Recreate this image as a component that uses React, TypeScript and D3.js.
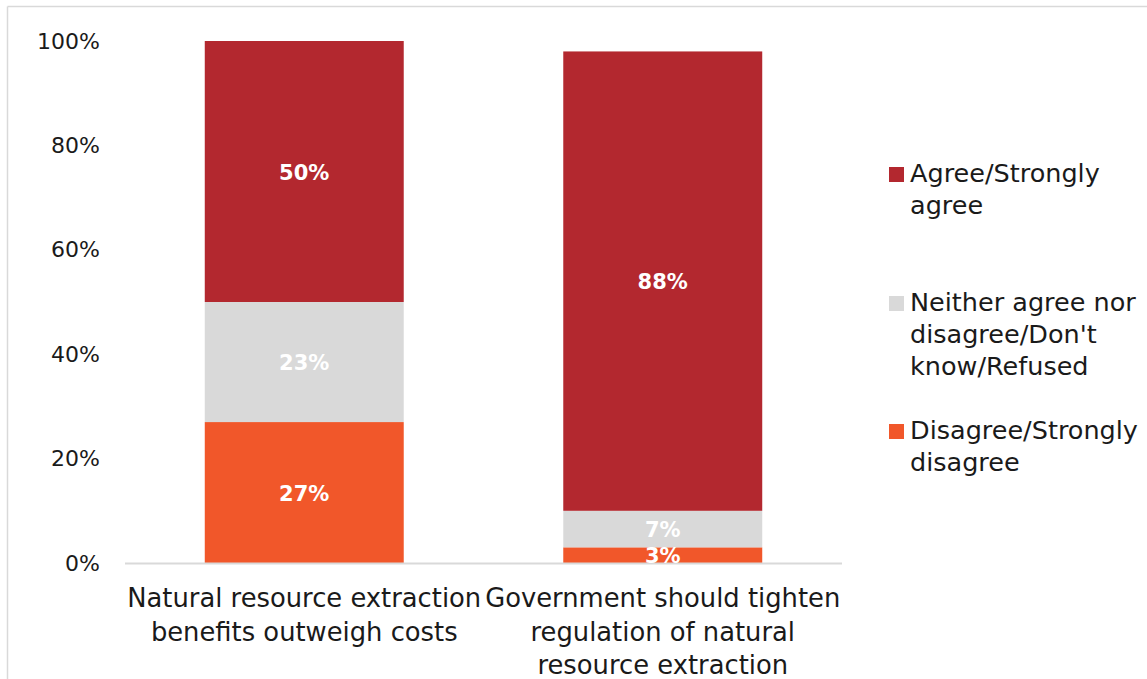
import React from "react";
import * as d3 from "d3";

const categories = [
  ["Natural resource extraction", "benefits outweigh costs"],
  ["Government should tighten", "regulation of natural", "resource extraction"],
];
const seriesNames = ["Disagree/Strongly disagree", "Neither agree nor disagree/Don't know/Refused", "Agree/Strongly agree"];
const disagree = [27, 3];
const neither = [23, 7];
const agree = [50, 88];
const yTicks = [0, 20, 40, 60, 80, 100];
const colors = ["#F1572A", "#D9D9D9", "#B3282F"];
const legendItems = [
  { lines: ["Agree/Strongly", "agree"], color: "#B3282F" },
  { lines: ["Neither agree nor", "disagree/Don't", "know/Refused"], color: "#D9D9D9" },
  { lines: ["Disagree/Strongly", "disagree"], color: "#F1572A" },
];

const FONT = "'DejaVu Sans', sans-serif";

export default function App() {
  const W = 1147, H = 679;
  const x = d3.scaleBand<number>().domain([0, 1]).range([125, 842]).paddingInner(0.445).paddingOuter(0.2225);
  const y = d3.scaleLinear().domain([0, 100]).range([563, 41]);
  const series = [disagree, neither, agree];
  const rows = categories.map((_, i) => ({ i, d: disagree[i], n: neither[i], a: agree[i] }));
  const stack = d3.stack<any>().keys(["d", "n", "a"])(rows);
  const legendY = [173, 302, 430];

  return (
    <svg width={W} height={H} style={{ position: "absolute", left: 0, top: 0, background: "#fff" }} fontFamily={FONT}>
      <line x1={7.5} y1={6.5} x2={W} y2={6.5} stroke="#D9D9D9" strokeWidth={1.5} />
      <line x1={7.5} y1={6.5} x2={7.5} y2={H} stroke="#D9D9D9" strokeWidth={1.5} />
      {yTicks.map((t) => (
        <text key={t} x={100} y={y(t)} textAnchor="end" dominantBaseline="central" fontSize={22} fill="#1a1a1a">
          {t}%
        </text>
      ))}
      {stack.map((s, si) =>
        s.map((seg: any, ci: number) => (
          <rect key={si + "-" + ci} x={x(ci)} width={x.bandwidth()} y={y(seg[1])} height={y(seg[0]) - y(seg[1])} fill={colors[si]} />
        ))
      )}
      <line x1={125} x2={842} y1={y(0) + 0.5} y2={y(0) + 0.5} stroke="#D9D9D9" strokeWidth={2} />
      {stack.map((s, si) =>
        s.map((seg: any, ci: number) => (
          <text key={"l" + si + "-" + ci} x={(x(ci) as number) + x.bandwidth() / 2} y={y((seg[0] + seg[1]) / 2) + 1}
            textAnchor="middle" dominantBaseline="central" fontSize={21} fontWeight="bold" fill="#fff">
            {series[si][ci]}%
          </text>
        ))
      )}
      {categories.map((lines, ci) =>
        lines.map((ln, li) => (
          <text key={"c" + ci + li} x={(x(ci) as number) + x.bandwidth() / 2} y={598 + li * 33.5} textAnchor="middle"
            dominantBaseline="central" fontSize={25.8} fill="#1a1a1a">
            {ln}
          </text>
        ))
      )}
      {legendItems.map((it, k) => (
        <g key={"lg" + k}>
          <rect x={889} y={legendY[k] - 6} width={15} height={15} fill={it.color} />
          {it.lines.map((ln, li) => (
            <text key={li} x={910} y={legendY[k] + li * 32} dominantBaseline="central" fontSize={25.5} fill="#1a1a1a">
              {ln}
            </text>
          ))}
        </g>
      ))}
    </svg>
  );
}
